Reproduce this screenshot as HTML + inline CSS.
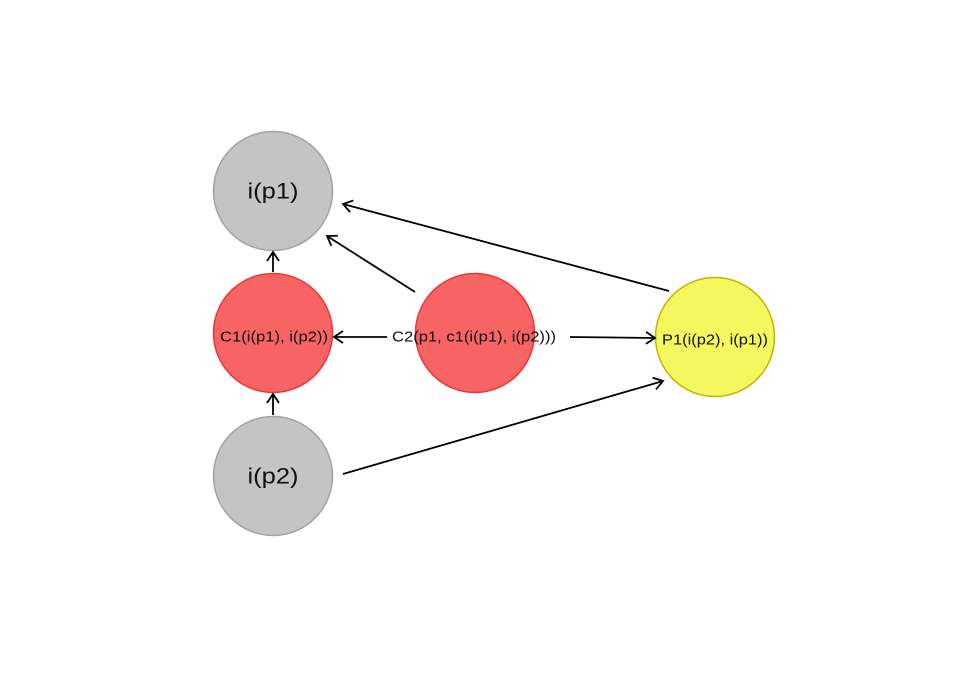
<!DOCTYPE html>
<html><head><style>
html,body{margin:0;padding:0;background:#fff;}
svg{display:block;}
text{font-family:"Liberation Sans",sans-serif;fill:#111;text-anchor:middle;dominant-baseline:central;}
</style></head><body>
<svg width="969" height="685" viewBox="0 0 969 685" xmlns="http://www.w3.org/2000/svg">
<defs>
<marker id="a" markerWidth="14" markerHeight="14" refX="11" refY="7" orient="auto" markerUnits="userSpaceOnUse">
<path d="M2,1 L11,7 L2,13" fill="none" stroke="#000" stroke-width="1.8"/>
</marker>
</defs>
<circle cx="273" cy="191" r="59.5" fill="#c4c4c4" stroke="#a3a3a3" stroke-width="1.5"/>
<circle cx="273" cy="333" r="59.5" fill="#f66464" stroke="#f03535" stroke-width="1.5"/>
<circle cx="475" cy="333" r="59.5" fill="#f66464" stroke="#f03535" stroke-width="1.5"/>
<circle cx="273" cy="476" r="59.5" fill="#c4c4c4" stroke="#a3a3a3" stroke-width="1.5"/>
<circle cx="715" cy="337" r="59.5" fill="#f4f75e" stroke="#c2b500" stroke-width="1.5"/>
<g stroke="#000" stroke-width="1.8" fill="none">
<line x1="273" y1="272" x2="273" y2="252" marker-end="url(#a)"/>
<line x1="273" y1="415" x2="273" y2="394" marker-end="url(#a)"/>
<line x1="387" y1="337" x2="334" y2="337" marker-end="url(#a)"/>
<line x1="415" y1="292" x2="327" y2="236" marker-end="url(#a)"/>
<line x1="669" y1="291" x2="343" y2="204" marker-end="url(#a)"/>
<line x1="570" y1="337" x2="655" y2="338" marker-end="url(#a)"/>
<line x1="343" y1="474" x2="663" y2="381" marker-end="url(#a)"/>
</g>
<text x="273" y="191" font-size="22" textLength="51" lengthAdjust="spacingAndGlyphs">i(p1)</text>
<text x="273" y="476" font-size="22" textLength="51" lengthAdjust="spacingAndGlyphs">i(p2)</text>
<text x="274" y="337" font-size="15" textLength="108" lengthAdjust="spacingAndGlyphs">C1(i(p1), i(p2))</text>
<text x="474" y="337" font-size="15" textLength="164" lengthAdjust="spacingAndGlyphs">C2(p1, c1(i(p1), i(p2)))</text>
<text x="715" y="340" font-size="15" textLength="106" lengthAdjust="spacingAndGlyphs">P1(i(p2), i(p1))</text>
</svg>
</body></html>
